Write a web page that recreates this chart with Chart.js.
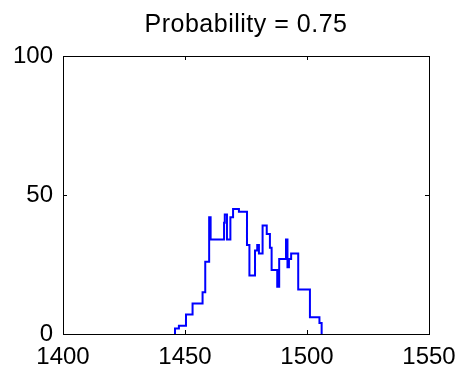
<!DOCTYPE html>
<html>
<head>
<meta charset="utf-8">
<script src="https://cdn.jsdelivr.net/npm/chart.js@4"></script>
<style>
  body { margin: 0; background: #fff; }
  canvas { display: block; }
</style>
</head>
<body>
<canvas id="chart" width="458" height="371"></canvas>
<script>
// stairs data: value holds from each x until the next one
const stepX = [1445.9, 1445.9, 1447.5, 1450.4, 1453.1, 1457.2, 1458.3, 1459.9, 1460.5,
               1466.0, 1466.3, 1467.2, 1468.6, 1469.7, 1472.1, 1475.4, 1476.4, 1478.7,
               1479.6, 1480.3, 1481.8, 1483.5, 1484.8, 1485.5, 1487.8, 1488.6, 1491.4,
               1492.0, 1492.6, 1493.5, 1496.4, 1501.2, 1505.1, 1506.0];
const stepY = [0, 2, 3, 7, 11, 15, 26, 42, 34,
               40, 43, 34, 42, 45, 44, 32, 21, 30,
               32, 29, 39, 36, 31, 23, 17, 27, 34,
               24, 27, 29, 16, 6, 4, 0];
const xTicks = [1400, 1450, 1500, 1550];
const yTicks = [0, 50, 100];
const titleText = 'Probability = 0.75';

const points = stepX.map((x, i) => ({ x: x, y: stepY[i] }));
const fontFamily = '"Liberation Sans", Arial, sans-serif';

// box around the axes, inward tick marks and the title centred over the axes (matlab style)
const framePlugin = {
    id: 'frame',
    afterDraw(chart) {
        const { ctx, chartArea: a, scales } = chart;
        ctx.save();
        ctx.strokeStyle = '#000';
        ctx.lineWidth = 1;
        ctx.strokeRect(a.left + 0.5, a.top + 0.5, a.right - a.left, a.bottom - a.top);
        ctx.beginPath();
        xTicks.forEach(v => {
            const px = Math.round(scales.x.getPixelForValue(v)) + 0.5;
            ctx.moveTo(px, a.bottom); ctx.lineTo(px, a.bottom - 4);
            ctx.moveTo(px, a.top); ctx.lineTo(px, a.top + 4);
        });
        yTicks.forEach(v => {
            const py = Math.round(scales.y.getPixelForValue(v)) + 0.5;
            ctx.moveTo(a.left, py); ctx.lineTo(a.left + 4, py);
            ctx.moveTo(a.right, py); ctx.lineTo(a.right - 4, py);
        });
        ctx.stroke();

        ctx.fillStyle = '#000';
        ctx.font = '25px ' + fontFamily;
        ctx.textAlign = 'center';
        ctx.textBaseline = 'middle';
        ctx.letterSpacing = '0.5px';
        ctx.fillText(titleText, (a.left + a.right) / 2, 25);
        ctx.restore();
    }
};

const tickFont = { family: fontFamily, size: 24 };

new Chart(document.getElementById('chart'), {
    type: 'line',
    data: {
        datasets: [{
            data: points,
            stepped: true,
            borderColor: 'rgb(0, 0, 255)',
            borderWidth: 2,
            pointRadius: 0,
            fill: false
        }]
    },
    options: {
        responsive: false,
        animation: false,
        layout: { padding: { left: 0, right: 29, top: 56, bottom: 0 } },
        scales: {
            x: {
                type: 'linear',
                min: 1400, max: 1550,
                afterFit: s => { s.height = 37; },
                afterBuildTicks: s => { s.ticks = xTicks.map(v => ({ value: v })); },
                grid: { display: false },
                border: { display: false },
                ticks: { color: '#000', font: tickFont, padding: 1, maxRotation: 0,
                         callback: v => String(v) }
            },
            y: {
                min: 0, max: 100,
                afterFit: s => { s.width = 63; },
                afterBuildTicks: s => { s.ticks = yTicks.map(v => ({ value: v })); },
                grid: { display: false },
                border: { display: false },
                ticks: { color: '#000', font: tickFont, padding: 2,
                         callback: v => String(v) }
            }
        },
        plugins: {
            legend: { display: false },
            tooltip: { enabled: false },
            title: { display: false }
        }
    },
    plugins: [framePlugin]
});
</script>
</body>
</html>
